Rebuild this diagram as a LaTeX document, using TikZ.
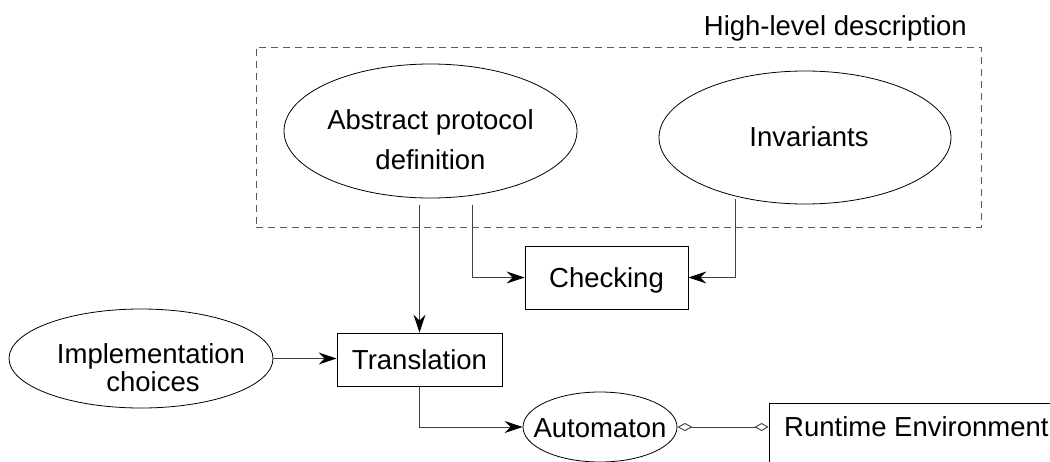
\documentclass[tikz,border=0pt]{standalone}
\usepackage{fontspec}
\setmainfont{Liberation Sans}
\usetikzlibrary{shapes.geometric,arrows.meta}
\begin{document}
\begin{tikzpicture}[x=1pt,y=-1pt,
  every node/.style={font=\fontsize{27.5}{31}\selectfont},
  ell/.style={ellipse,draw,line width=0.8pt,inner sep=0pt},
  box/.style={rectangle,draw,line width=0.8pt,inner sep=0pt,text height=19.5pt,text depth=0pt},
  txt/.style={inner sep=0pt,anchor=base},
  conn/.style={line width=0.9pt,draw=black!75},
  arr/.style={conn,-{Stealth[length=18pt,width=12pt,inset=6pt,color=black,fill=black]}},
  dia/.style={conn,{Diamond[open,length=15pt,width=8pt]}-{Diamond[open,length=14pt,width=8pt]}},
  grp/.style={draw=black!65,line width=0.8pt,dash pattern=on 7pt off 5pt}
]
\useasboundingbox (0,0) rectangle (1050,461);
\clip (0,0) rectangle (1050,461);

% group
\node[grp,rectangle,inner sep=0pt,minimum width=725pt,minimum height=180pt] (grp) at (618.5,137) {};
\node[txt,anchor=base east] (grplbl) at (967,35) {High-level description};

% ellipses
\node[ell,minimum width=293pt,minimum height=134pt] (apd) at (430.5,131) {};
\node[txt] (apd1) at (430.5,129) {Abstract protocol};
\node[txt] (apd2) at (430.5,169) {definition};

\node[ell,minimum width=292pt,minimum height=133pt] (inv) at (805,137.5) {};
\node[txt] (invt) at (809,146) {Invariants};

\node[ell,minimum width=264pt,minimum height=99pt] (imp) at (141,358.5) {};
\node[txt] (imp1) at (151,363) {Implementation};
\node[txt] (imp2) at (153,391) {choices};

\node[ell,minimum width=154pt,minimum height=70pt] (aut) at (600,427) {};
\node[txt] (autt) at (600,437) {Automaton};

% boxes
\node[box,minimum width=163pt,minimum height=63pt] (chk) at (606.5,277.5) {Checking};
\node[box,minimum width=165pt,minimum height=53pt] (tr) at (419.5,359.5) {Translation};
\node[rectangle,draw,line width=0.8pt,minimum width=300pt,minimum height=90pt] (rt) at (919,448) {};
\node[txt,anchor=base west] (rtt) at (784,436) {Runtime Environment};

% connector start points
\coordinate (a1) at (419.5,205);
\coordinate (a2) at (472,205);
\coordinate (i1) at (735,199);

% connectors
\draw[arr] (a1) -- (tr.north);
\draw[arr] (a2) |- (chk.west);
\draw[arr] (i1) |- (chk.east);
\draw[arr] (imp.east) -- (tr.west |- imp.east);
\draw[arr] (tr.south) |- (aut.west);
\draw[dia] (aut.east) -- (rt.west |- aut.east);
\end{tikzpicture}
\end{document}
